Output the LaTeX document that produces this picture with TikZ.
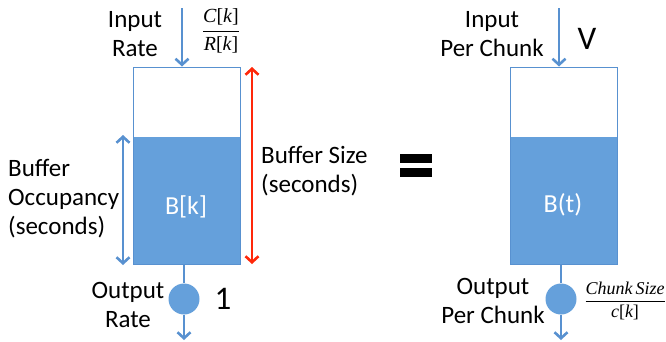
\documentclass[tikz,border=0pt]{standalone}
\usepackage{fontspec}
\setmainfont{Carlito}
\newfontfamily\frserif{Liberation Serif}
\usetikzlibrary{arrows.meta}
\definecolor{fillblue}{RGB}{101,160,219}
\definecolor{arrblue}{RGB}{88,145,208}
\definecolor{redarr}{RGB}{255,40,10}
\begin{document}
\begin{tikzpicture}[x=1pt,y=-1pt,
  lbl/.style={font=\fontsize{25}{29}\selectfont, align=center, inner sep=0pt},
  lbll/.style={font=\fontsize{25}{29}\selectfont, align=left, inner sep=0pt, anchor=west},
  big/.style={font=\fontsize{33}{36}\selectfont, inner sep=0pt},
  inlbl/.style={font=\fontsize{26}{30}\selectfont, text=white, inner sep=0pt},
  frac/.style={font=\fontsize{20}{22}\selectfont, inner sep=0pt},
  fracs/.style={font=\fontsize{18}{20}\selectfont, inner sep=0pt},
  tank/.style={draw=arrblue, line width=1pt, minimum width=107pt, minimum height=197pt, inner sep=0pt},
  level/.style={fill=fillblue},
  valve/.style={circle, fill=fillblue, minimum size=31pt, inner sep=0pt},
  arr/.style={draw=arrblue, line width=2.6pt, -{Straight Barb[length=6pt,width=13pt,line width=2.6pt]}},
  darr/.style={draw=arrblue, line width=2.6pt, {Straight Barb[length=6pt,width=13pt,line width=2.6pt]}-{Straight Barb[length=6pt,width=13pt,line width=2.6pt]}},
  rarr/.style={draw=redarr, line width=2.6pt, {Straight Barb[length=6pt,width=13pt,line width=2.6pt]}-{Straight Barb[length=6pt,width=13pt,line width=2.6pt]}},
  stem/.style={draw=arrblue, line width=2.6pt}]
\useasboundingbox (0,0) rectangle (666,341);
% ---------- left tank ----------
\fill[level] (133,137) rectangle (240,264);
\node[tank] (lb) at (186.5,165.5) {};
\node[inlbl] (lbk) at (186,207) {B[k]};
\coordinate (lin) at (182,8);
\draw[arr] (lin) -- (lin |- lb.north);
\node[lbl] (linl) at (135,34) {Input\\Rate};
\node[frac] (lfr) at (221,31) {$\displaystyle\frac{\hbox{\frserif\itshape C\upshape[\itshape k\upshape]}}{\hbox{\frserif\itshape R\upshape[\itshape k\upshape]}}$};
\coordinate (occt) at (123,135);
\coordinate (occb) at (123,265);
\draw[darr] (occt) -- (occb);
\node[lbll] (occl) at (8,199) {Buffer\\Occupancy\\(seconds)};
\coordinate (szt) at (252,67);
\coordinate (szb) at (252,264);
\draw[rarr] (szt) -- (szb);
\node[lbll] (szl) at (261,171) {Buffer Size\\(seconds)};
\node[valve] (lc) at (184,299) {};
\draw[stem] (lc |- lb.south) -- (lc.north);
\coordinate (lout) at (184,340);
\draw[arr] (lc.south) -- (lout);
\node[lbl] (loutl) at (128,305) {Output\\Rate};
\node[big] (lone) at (223,299) {1};
% ---------- equals ----------
\fill (400,154) rectangle (432,163);
\fill (400,168) rectangle (432,177);
% ---------- right tank ----------
\fill[level] (510,137) rectangle (617,264);
\node[tank] (rb) at (563.5,165.5) {};
\node[inlbl] (rbt) at (563,205) {B(t)};
\coordinate (rin) at (559,8);
\draw[arr] (rin) -- (rin |- rb.north);
\node[lbl] (rinl) at (492,34) {Input\\Per Chunk};
\node[big] (rv) at (587,39) {V};
\node[valve] (rc) at (561,299) {};
\draw[stem] (rc |- rb.south) -- (rc.north);
\coordinate (rout) at (561,340);
\draw[arr] (rc.south) -- (rout);
\node[lbl] (routl) at (493,301) {Output\\Per Chunk};
\node[fracs] (rfr) at (625,301) {$\displaystyle\frac{\hbox{\frserif\itshape Chunk\,Size}}{\hbox{\frserif\itshape c\upshape[\itshape k\upshape]}}$};
\end{tikzpicture}
\end{document}
